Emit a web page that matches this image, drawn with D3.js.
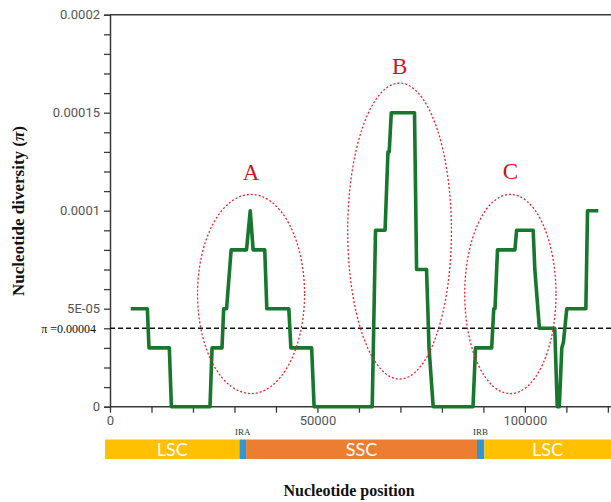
<!DOCTYPE html>
<html><head><meta charset="utf-8">
<script src="https://cdn.jsdelivr.net/npm/d3@7"></script>
<style>body{margin:0;background:#fff}svg{display:block}</style>
</head><body><svg id="c" width="611" height="502"></svg>
<script>
// Sliding-window nucleotide diversity (position in bp, pi)
const positions = [5000, 9000, 9400, 14300, 14800, 24100, 24600, 27000, 27400, 28100, 29200, 32900, 33800, 34500, 37300, 37800, 43100, 43600, 48600, 49200,
  63200, 64000, 66300, 67000, 67300, 67800, 73400, 73900, 76300, 76900, 77900,
  87500, 88100, 92000, 92500, 92800, 93400, 97600, 98000, 102000, 102400, 103500, 107200, 107800, 108300, 108900, 109300, 110100, 114700, 115100, 117700];
const piValues = [5e-5, 5e-5, 3e-5, 3e-5, 0, 0, 3e-5, 3e-5, 5e-5, 5e-5, 8e-5, 8e-5, 1e-4, 8e-5, 8e-5, 5e-5, 5e-5, 3e-5, 3e-5, 0,
  0, 9e-5, 9e-5, 1.3e-4, 1.3e-4, 1.5e-4, 1.5e-4, 7e-5, 7e-5, 3e-5, 0,
  0, 3e-5, 3e-5, 5e-5, 5e-5, 8e-5, 8e-5, 9e-5, 9e-5, 7e-5, 4e-5, 4e-5, 0, 0, 3e-5, 3.3e-5, 5e-5, 5e-5, 1e-4, 1e-4];
const threshold = 0.00004;
const yTickValues = [0, 0.00005, 0.0001, 0.00015, 0.0002];
const yTickLabels = ["0", "5E-05", "0.0001", "0.00015", "0.0002"];
const xTickLabelValues = [0, 50000, 100000];
// Highlighted regions (ellipses)
const hotNames = ["A", "B", "C"];
const hotCx = [34000, 69800, 96500];
const hotCy = [5.75e-5, 8.96e-5, 5.75e-5];
const hotRx = [12900, 12500, 11000];
const hotRy = [5.08e-5, 7.55e-5, 5.08e-5];
const hotLabelPi = [1.157e-4, 1.696e-4, 1.16e-4];
// Chloroplast regions
const regionNames = ["LSC", "IRA", "SSC", "IRB", "LSC"];
const regionStart = [-1200, 31200, 32800, 88450, 90200];
const regionEnd = [31200, 32800, 88450, 90200, 121200];
const regionColors = ["#FFC000", "#2F95D4", "#ED7D31", "#2F95D4", "#FFC000"];

const svg = d3.select("#c");
const x = d3.scaleLinear().domain([0, 121000]).range([110, 612]);
const y = d3.scaleLinear().domain([0, 0.0002]).range([406.7, 14.7]);

// top border
svg.append("line").attr("x1", x(0)).attr("x2", 611).attr("y1", y(0.0002)).attr("y2", y(0.0002))
  .attr("stroke", "#3a3a3a").attr("stroke-width", 1.5);

// y axis
const yAx = svg.append("g").attr("transform", `translate(${x(0)},0)`)
  .call(d3.axisLeft(y).tickValues(d3.range(0, 0.000201, 0.00001)).tickSize(6)
    .tickFormat(d => { const i = yTickValues.findIndex(v => Math.abs(v - d) < 1e-9); return i >= 0 ? yTickLabels[i] : ""; }));
yAx.select(".domain").attr("stroke", "#3a3a3a").attr("stroke-width", 1.5);
yAx.selectAll(".tick line").attr("stroke", "#3a3a3a").attr("stroke-width", 1.3);
yAx.selectAll(".tick text").attr("fill", "#555").style("font-family", "Roboto, sans-serif").style("font-size", "13px").attr("x", -10);

// x axis
const xAx = svg.append("g").attr("transform", `translate(0,${y(0)})`)
  .call(d3.axisBottom(x).tickValues(d3.range(0, 120001, 10000)).tickSize(6)
    .tickFormat(d => xTickLabelValues.includes(d) ? String(d) : ""));
xAx.select(".domain").attr("stroke", "#3a3a3a").attr("stroke-width", 1.5).attr("d", `M${x(0)},0H611`);
xAx.selectAll(".tick line").attr("stroke", "#3a3a3a").attr("stroke-width", 1.3);
xAx.selectAll(".tick text").attr("fill", "#555").style("font-family", "Roboto, sans-serif").style("font-size", "13px").attr("y", 9);

// threshold line
svg.append("line").attr("x1", x(0)).attr("x2", 611).attr("y1", y(threshold)).attr("y2", y(threshold))
  .attr("stroke", "#111").attr("stroke-width", 1.4).attr("stroke-dasharray", "5,3");
svg.append("text").attr("x", 96).attr("y", y(threshold)).attr("dy", "0.35em").attr("text-anchor", "end")
  .style("font-family", "'Liberation Serif', serif").style("font-size", "12px").attr("fill", "#111")
  .text("π =0.00004");

// data line
const pts = positions.map((p, i) => [p, piValues[i]]);
svg.append("path").datum(pts)
  .attr("d", d3.line().x(d => x(d[0])).y(d => y(d[1])))
  .attr("fill", "none").attr("stroke", "#17772d").attr("stroke-width", 3.6).attr("stroke-linejoin", "round");

// ellipses and labels
hotNames.forEach((n, i) => {
  const cx = x(hotCx[i]), cy = y(hotCy[i]);
  const rx = x(hotRx[i]) - x(0), ry = y(0) - y(hotRy[i]);
  svg.append("ellipse").attr("cx", cx).attr("cy", cy).attr("rx", rx).attr("ry", ry)
    .attr("fill", "none").attr("stroke", "#e8232b").attr("stroke-width", 1.3).attr("stroke-dasharray", "2,2");
  svg.append("text").attr("x", cx).attr("y", y(hotLabelPi[i])).attr("text-anchor", "middle")
    .style("font-family", "'Liberation Serif', serif").style("font-size", "23px").attr("fill", "#c8161e").text(n);
});

// region bar
const barTop = 439.5, barH = 19.5;
regionNames.forEach((n, i) => {
  const x0 = x(regionStart[i]), x1 = Math.min(x(regionEnd[i]), 611);
  svg.append("rect").attr("x", x0).attr("y", barTop).attr("width", x1 - x0).attr("height", barH)
    .attr("fill", regionColors[i]);
  if (n.startsWith("IR")) {
    svg.append("text").attr("x", (x0 + x1) / 2).attr("y", barTop - 5).attr("text-anchor", "middle")
      .style("font-family", "'Liberation Serif', serif").style("font-size", "9px").attr("fill", "#333").text(n);
  } else {
    svg.append("text").attr("x", (x0 + x1) / 2).attr("y", barTop + barH / 2).attr("dy", "0.35em").attr("text-anchor", "middle")
      .style("font-family", "Lato, 'Open Sans', sans-serif").style("font-size", "18px").attr("fill", "#fff").text(n);
  }
});

// axis titles
svg.append("text").attr("x", 349).attr("y", 496).attr("text-anchor", "middle")
  .style("font-family", "'Liberation Serif', serif").style("font-size", "16px").style("font-weight", "bold").attr("fill", "#111")
  .text("Nucleotide position");
const yt = svg.append("text").attr("transform", "translate(24,211) rotate(-90)").attr("text-anchor", "middle")
  .style("font-family", "'Liberation Serif', serif").style("font-size", "17px").style("font-weight", "bold").attr("fill", "#111");
yt.append("tspan").text("Nucleotide diversity (");
yt.append("tspan").style("font-style", "italic").text("π");
yt.append("tspan").text(")");
</script></body></html>
